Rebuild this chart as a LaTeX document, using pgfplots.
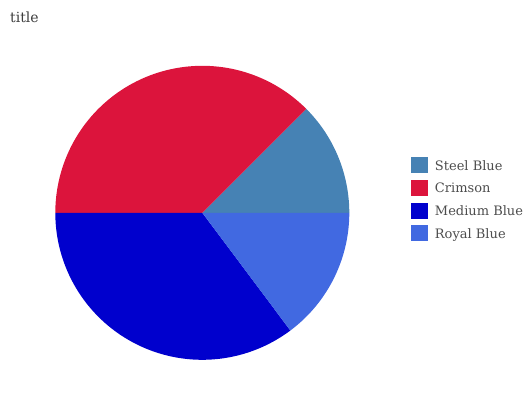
\documentclass[border=0pt]{standalone}
\usepackage{fontspec}
\setmainfont{DejaVu Serif}
\usepackage{pgfplots}
\usepackage{pgfplotstable}
\pgfplotsset{compat=1.18}
\definecolor{steelblue}{HTML}{4682B4}
\definecolor{crimson}{HTML}{DC143C}
\definecolor{mediumblue}{HTML}{0000CD}
\definecolor{royalblue}{HTML}{4169E1}
\definecolor{txtgray}{HTML}{4D4D4D}
\pgfplotstableread{
label value
SteelBlue 11
Crimson 33
MediumBlue 31
RoyalBlue 13
}\pietable
\pgfplotstablegetelem{0}{value}\of\pietable\let\va\pgfplotsretval
\pgfplotstablegetelem{1}{value}\of\pietable\let\vb\pgfplotsretval
\pgfplotstablegetelem{2}{value}\of\pietable\let\vc\pgfplotsretval
\pgfplotstablegetelem{3}{value}\of\pietable\let\vd\pgfplotsretval
\pgfmathsetmacro\tot{\va+\vb+\vc+\vd}
\pgfmathsetmacro\aa{360*\va/\tot}
\pgfmathsetmacro\ab{\aa+360*\vb/\tot}
\pgfmathsetmacro\ac{\ab+360*\vc/\tot}
\begin{document}
\begin{tikzpicture}
\path[use as bounding box] (0,0) rectangle (532bp,-400bp);
\node[anchor=west, font=\fontsize{14bp}{16bp}\selectfont, text=txtgray!80!black, inner sep=0pt] at (10bp,-17bp) {title};
\begin{axis}[
  at={(202.3bp,-212.8bp)}, anchor=origin,
  x=147bp, y=147bp,
  xmin=-1, xmax=1, ymin=-1, ymax=1,
  hide axis, clip=false,
  legend cell align=left,
  legend style={at={(axis description cs:1.21,0.69)}, anchor=north west, draw=none, fill=none, inner sep=0pt,
    font=\fontsize{13bp}{15bp}\selectfont, text=txtgray, row sep=6.7bp,
    nodes={inner sep=0pt, text depth=0pt}},
  legend image code/.code={\fill[#1] (0bp,-8bp) rectangle (16.7bp,8bp);},
]
\addplot[fill=steelblue, draw=none, domain=0:\aa, samples=80] ({cos(x)},{sin(x)}) -- (axis cs:0,0) -- cycle;
\addlegendentry{\hspace{7bp}Steel Blue}
\addplot[fill=crimson, draw=none, domain=\aa:\ab, samples=120] ({cos(x)},{sin(x)}) -- (axis cs:0,0) -- cycle;
\addlegendentry{\hspace{7bp}Crimson}
\addplot[fill=mediumblue, draw=none, domain=\ab:\ac, samples=120] ({cos(x)},{sin(x)}) -- (axis cs:0,0) -- cycle;
\addlegendentry{\hspace{7bp}Medium Blue}
\addplot[fill=royalblue, draw=none, domain=\ac:360, samples=80] ({cos(x)},{sin(x)}) -- (axis cs:0,0) -- cycle;
\addlegendentry{\hspace{7bp}Royal Blue}
\end{axis}
\end{tikzpicture}
\end{document}
